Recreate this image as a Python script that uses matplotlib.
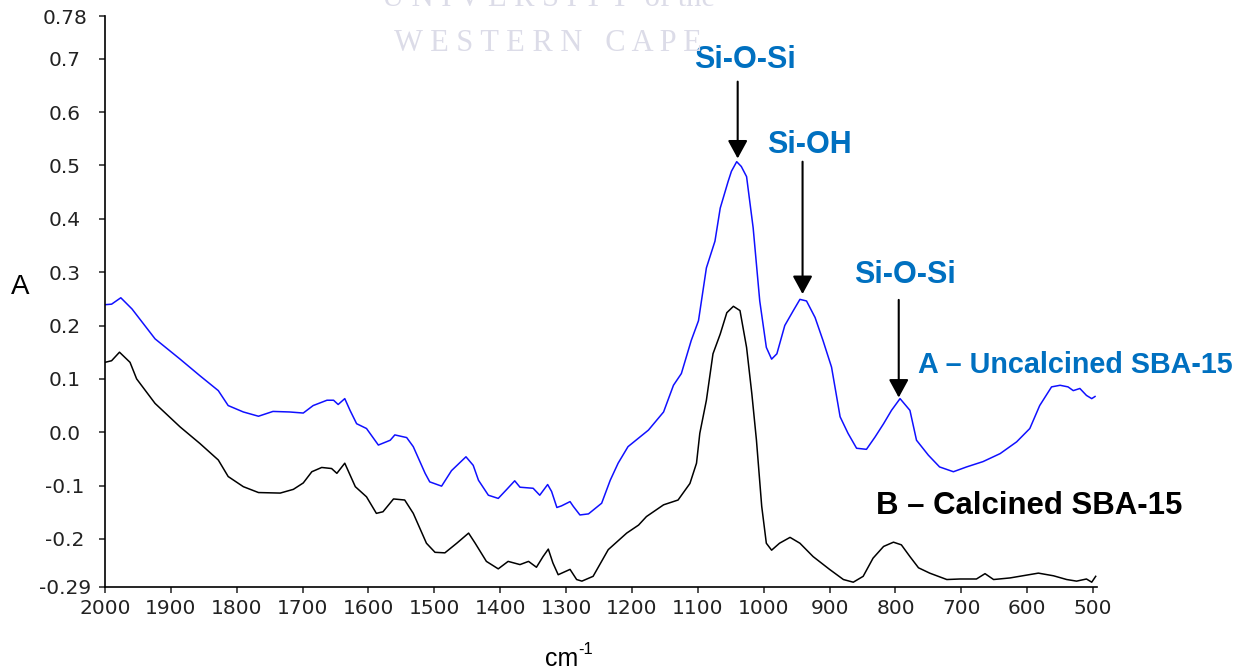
import matplotlib
matplotlib.use('Agg')
import matplotlib.pyplot as plt
from matplotlib.patches import ArrowStyle

# FTIR spectra, wavenumber (cm-1) vs absorbance
wn_a = [2000, 1990, 1976, 1959, 1924, 1886, 1856, 1828, 1813, 1790, 1767, 1745,
        1720, 1699, 1684, 1663, 1653, 1646, 1636, 1628, 1618, 1603, 1585, 1567,
        1560, 1542, 1532, 1514, 1507, 1489, 1474, 1452, 1441, 1433, 1418, 1403,
        1390, 1378, 1370, 1350, 1340, 1328, 1322, 1314, 1307, 1294, 1289, 1279,
        1266, 1246, 1233, 1221, 1206, 1188, 1175, 1152, 1137, 1125, 1110, 1099,
        1087, 1074, 1066, 1054, 1049, 1041, 1034, 1026, 1016, 1006, 996, 988,
        980, 968, 955, 945, 935, 922, 910, 897, 884, 872, 859, 844, 831, 818,
        806, 793, 778, 768, 750, 733, 712, 692, 667, 641, 616, 596, 581, 563,
        550, 538, 530, 520, 510, 502, 497]
abs_a = [0.239, 0.240, 0.252, 0.231, 0.175, 0.137, 0.106, 0.078, 0.050, 0.038,
         0.030, 0.039, 0.038, 0.036, 0.050, 0.060, 0.060, 0.052, 0.063, 0.041,
         0.016, 0.007, -0.024, -0.015, -0.005, -0.010, -0.027, -0.077, -0.093,
         -0.101, -0.072, -0.046, -0.062, -0.090, -0.118, -0.124, -0.107, -0.091,
         -0.103, -0.105, -0.118, -0.098, -0.111, -0.141, -0.138, -0.130, -0.139,
         -0.155, -0.153, -0.133, -0.090, -0.058, -0.027, -0.009, 0.004, 0.038,
         0.088, 0.110, 0.172, 0.209, 0.308, 0.358, 0.420, 0.470, 0.489, 0.507,
         0.498, 0.479, 0.383, 0.246, 0.159, 0.137, 0.147, 0.200, 0.228, 0.249,
         0.246, 0.215, 0.172, 0.122, 0.029, -0.002, -0.030, -0.032, -0.009,
         0.016, 0.041, 0.063, 0.041, -0.015, -0.043, -0.065, -0.074, -0.065,
         -0.055, -0.040, -0.018, 0.007, 0.050, 0.085, 0.088, 0.085, 0.078,
         0.082, 0.069, 0.063, 0.067]

wn_b = [2000, 1990, 1978, 1962, 1952, 1924, 1886, 1856, 1828, 1813, 1790, 1767,
        1734, 1714, 1699, 1686, 1671, 1656, 1648, 1636, 1628, 1620, 1603, 1588,
        1578, 1562, 1545, 1532, 1512, 1499, 1484, 1466, 1448, 1438, 1421, 1403,
        1388, 1370, 1357, 1345, 1335, 1327, 1320, 1312, 1294, 1284, 1276, 1259,
        1236, 1208, 1190, 1178, 1152, 1130, 1112, 1102, 1097, 1087, 1077, 1066,
        1056, 1046, 1036, 1026, 1018, 1011, 1003, 996, 988, 976, 960, 945, 925,
        900, 879, 864, 849, 834, 818, 803, 791, 778, 765, 748, 722, 702, 677,
        664, 651, 626, 583, 560, 540, 525, 510, 502, 496]
abs_b = [0.131, 0.134, 0.150, 0.131, 0.100, 0.054, 0.010, -0.021, -0.052,
         -0.083, -0.102, -0.113, -0.114, -0.107, -0.095, -0.074, -0.066, -0.068,
         -0.077, -0.058, -0.080, -0.102, -0.121, -0.152, -0.149, -0.125, -0.127,
         -0.152, -0.208, -0.225, -0.226, -0.208, -0.189, -0.208, -0.242, -0.256,
         -0.242, -0.248, -0.242, -0.253, -0.233, -0.219, -0.245, -0.267, -0.257,
         -0.276, -0.279, -0.270, -0.220, -0.189, -0.174, -0.158, -0.136, -0.127,
         -0.096, -0.058, -0.002, 0.060, 0.147, 0.184, 0.224, 0.236, 0.228, 0.159,
         0.072, -0.015, -0.139, -0.208, -0.221, -0.208, -0.197, -0.208, -0.233,
         -0.257, -0.276, -0.281, -0.270, -0.236, -0.214, -0.206, -0.211, -0.233,
         -0.254, -0.264, -0.276, -0.275, -0.275, -0.265, -0.276, -0.273, -0.264,
         -0.269, -0.276, -0.279, -0.275, -0.281, -0.270]

x_ticks = list(range(2000, 499, -100))
y_ticks = [0.78, 0.7, 0.6, 0.5, 0.4, 0.3, 0.2, 0.1, 0.0, -0.1, -0.2, -0.29]
y_ticklabels = ['0.78', '0.7', '0.6', '0.5', '0.4', '0.3', '0.2', '0.1', '0.0',
                '-0.1', '-0.2', '-0.29']

# peak labels: (text, label x, label y, arrow tip x, tip y, arrow tail y)
peaks = [('Si-O-Si', 1028, 0.698, 1039.5, 0.513, 0.657),
         ('Si-OH', 931, 0.539, 941, 0.259, 0.507),
         ('Si-O-Si', 786, 0.295, 795, 0.065, 0.248)]

label_blue = '#0070C0'

fig = plt.figure(figsize=(12.51, 6.70), dpi=100)
ax = fig.add_axes([105 / 1251, 83 / 670, 992 / 1251, 571 / 670])

# faint watermark behind the plot (top line is cut by the edge, as in the source)
wm = dict(color='#DCDCE8', family='Liberation Serif', fontsize=22, ha='center',
          va='baseline', zorder=0)
fig.text(548 / 1251, 1 - 6 / 670, 'U N I V E R S I T Y  of the', **wm)
fig.text(548 / 1251, 1 - 51 / 670, 'W E S T E R N   C A P E', **wm)

ax.plot(wn_a, abs_a, color='#1010FF', lw=1.1)
ax.plot(wn_b, abs_b, color='black', lw=1.1)

ax.set_xlim(2000, 494)
ax.set_ylim(-0.29, 0.78)
ax.set_xticks(x_ticks)
ax.set_yticks(y_ticks)
ax.set_yticklabels(y_ticklabels)
ax.spines['top'].set_visible(False)
ax.spines['right'].set_visible(False)
for s in ['left', 'bottom']:
    ax.spines[s].set_linewidth(1.2)
ax.tick_params(direction='out', length=4, width=1.1, labelsize=14.5,
               colors='#222222')
ax.tick_params(axis='y', pad=25)
ax.tick_params(axis='x', pad=5)
for lab in ax.get_yticklabels():
    lab.set_ha('center')
    lab.set_family('DejaVu Sans')
for lab in ax.get_xticklabels():
    lab.set_family('DejaVu Sans')
ax.patch.set_alpha(0)

fig.text(20 / 1251, 1 - 287 / 670, 'A', fontsize=20, family='Liberation Sans',
         ha='center', va='center')
fig.text(562 / 1251, 1 - 659 / 670, 'cm', fontsize=18,
         family='Liberation Sans', ha='center', va='center')
fig.text(586 / 1251, 1 - 650 / 670, '-1', fontsize=12,
         family='Liberation Sans', ha='center', va='center')

arrow = ArrowStyle('-|>', head_length=1.1, head_width=0.6)
for txt, lx, ly, tx, ty, ay in peaks:
    ax.text(lx, ly, txt, color=label_blue, fontsize=22, fontweight='bold',
            family='Liberation Sans', ha='center', va='center')
    ax.annotate('', xy=(tx, ty), xytext=(tx, ay),
                arrowprops=dict(arrowstyle=arrow, color='black', lw=1.5,
                                mutation_scale=10, shrinkA=0, shrinkB=0))

ax.text(527, 0.126, 'A \u2013 Uncalcined SBA-15', color=label_blue,
        fontsize=20.7, fontweight='bold', family='Liberation Sans',
        ha='center', va='center')
ax.text(597, -0.138, 'B \u2013 Calcined SBA-15', color='black', fontsize=22.4,
        fontweight='bold', family='Liberation Sans', ha='center', va='center')

fig.savefig('out.png', dpi=100)
